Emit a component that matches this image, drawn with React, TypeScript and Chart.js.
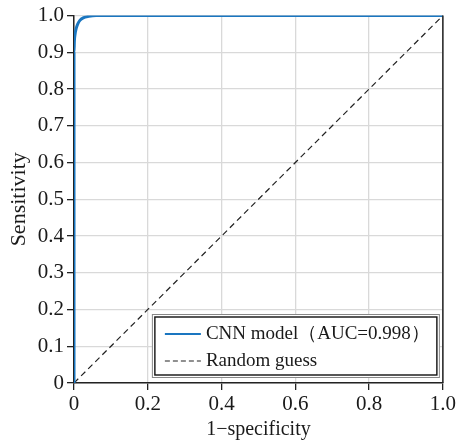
import React, { useEffect, useRef } from "react";
import { Chart, registerables } from "chart.js";
Chart.register(...registerables);

const rocFpr = [0, 0, 0, 0.001, 0.003, 0.006, 0.01, 0.016, 0.025, 0.04, 0.06, 0.1, 0.5, 1.0];
const rocTpr = [0, 0.5, 0.9, 0.93, 0.95, 0.965, 0.977, 0.987, 0.994, 0.998, 1.0, 1.0, 1.0, 1.0];
const guessX = [0, 1];
const guessY = [0, 1];
const xTicks = [0, 0.2, 0.4, 0.6, 0.8, 1.0];
const yTicks = [0, 0.1, 0.2, 0.3, 0.4, 0.5, 0.6, 0.7, 0.8, 0.9, 1.0];
const seriesNames = ["CNN model（AUC=0.998）", "Random guess"];

const FONT = "'Liberation Serif', 'DejaVu Serif', serif";

const framePlugin = {
  id: "frame",
  afterDatasetsDraw(chart: any) {
    const { ctx, chartArea } = chart;
    ctx.save();
    ctx.strokeStyle = "#222";
    ctx.lineWidth = 1.5;
    ctx.beginPath();
    ctx.moveTo(chartArea.right, chartArea.top);
    ctx.lineTo(chartArea.right, chartArea.bottom);
    ctx.stroke();
    ctx.restore();
  },
  afterDraw(chart: any) {
    const { ctx, chartArea } = chart;
    const x0 = chartArea.right - 291;
    const y0 = chartArea.bottom - 69;
    const w = 288;
    const h = 64;
    ctx.save();
    ctx.fillStyle = "#fff";
    ctx.fillRect(x0, y0, w, h);
    ctx.strokeStyle = "#888";
    ctx.lineWidth = 1;
    ctx.strokeRect(x0 + 0.5, y0 + 0.5, w - 1, h - 1);
    ctx.strokeStyle = "#111";
    ctx.lineWidth = 1.4;
    ctx.strokeRect(x0 + 3, y0 + 3, w - 6, h - 6);
    const r1 = y0 + 20;
    const r2 = y0 + 47;
    ctx.strokeStyle = "#1a76c0";
    ctx.lineWidth = 2.2;
    ctx.beginPath();
    ctx.moveTo(x0 + 13, r1);
    ctx.lineTo(x0 + 49, r1);
    ctx.stroke();
    ctx.strokeStyle = "#222";
    ctx.lineWidth = 1.2;
    ctx.setLineDash([5, 3]);
    ctx.beginPath();
    ctx.moveTo(x0 + 13, r2);
    ctx.lineTo(x0 + 49, r2);
    ctx.stroke();
    ctx.setLineDash([]);
    ctx.fillStyle = "#1a1a1a";
    ctx.font = "19px " + FONT;
    ctx.textBaseline = "middle";
    ctx.fillText(seriesNames[0], x0 + 54, r1);
    ctx.fillText(seriesNames[1], x0 + 54, r2);
    ctx.restore();
  },
};

export default function App() {
  const ref = useRef<HTMLCanvasElement>(null);
  useEffect(() => {
    document.body.style.margin = "0";
    const chart = new Chart(ref.current!, {
      type: "line",
      data: {
        datasets: [
          {
            label: seriesNames[0],
            data: rocFpr.map((x, i) => ({ x, y: rocTpr[i] })),
            borderColor: "#1a76c0",
            borderWidth: 3,
            pointRadius: 0,
            cubicInterpolationMode: "monotone",
            fill: false,
            order: 0,
          },
          {
            label: seriesNames[1],
            data: guessX.map((x, i) => ({ x, y: guessY[i] })),
            borderColor: "#222",
            borderWidth: 1.2,
            borderDash: [6, 4],
            pointRadius: 0,
            fill: false,
            order: 1,
          },
        ],
      },
      options: {
        animation: false,
        responsive: false,
        layout: { padding: { top: 14, right: 14, left: 0, bottom: 0 } },
        plugins: { legend: { display: false }, tooltip: { enabled: false } },
        scales: {
          x: {
            type: "linear",
            min: 0,
            max: 1,
            afterBuildTicks: (s: any) => {
              s.ticks = xTicks.map((v) => ({ value: v }));
            },
            afterFit: (s: any) => {
              s.height = 61;
            },
            ticks: {
              color: "#1a1a1a",
              font: { family: FONT, size: 21 },
              padding: 2,
              maxRotation: 0,
              callback: (v: any) => (v === 0 ? "0" : Number(v).toFixed(1)),
            },
            grid: { color: "#d9d9d9", lineWidth: 1.3, tickColor: "#222", tickLength: 7 },
            border: { color: "#222", width: 1.5 },
            title: {
              display: true,
              text: "1−specificity",
              color: "#1a1a1a",
              font: { family: FONT, size: 20 },
              padding: { top: 0, bottom: 2 },
            },
          },
          y: {
            type: "linear",
            min: 0,
            max: 1,
            afterBuildTicks: (s: any) => {
              s.ticks = yTicks.map((v) => ({ value: v }));
            },
            afterFit: (s: any) => {
              s.width = 74;
            },
            ticks: {
              color: "#1a1a1a",
              font: { family: FONT, size: 21 },
              padding: 3,
              callback: (v: any) => (v === 0 ? "0" : Number(v).toFixed(1)),
            },
            grid: { color: "#d9d9d9", lineWidth: 1.3, tickColor: "#222", tickLength: 7 },
            border: { color: "#222", width: 1.5 },
            title: {
              display: true,
              text: "Sensitivity",
              color: "#1a1a1a",
              font: { family: FONT, size: 22 },
              padding: { top: 6, bottom: 0 },
            },
          },
        },
      } as any,
      plugins: [framePlugin],
    });
    return () => chart.destroy();
  }, []);
  return (
    <div style={{ width: 458, height: 444 }}>
      <canvas ref={ref} width={458} height={444} style={{ display: "block" }} />
    </div>
  );
}
